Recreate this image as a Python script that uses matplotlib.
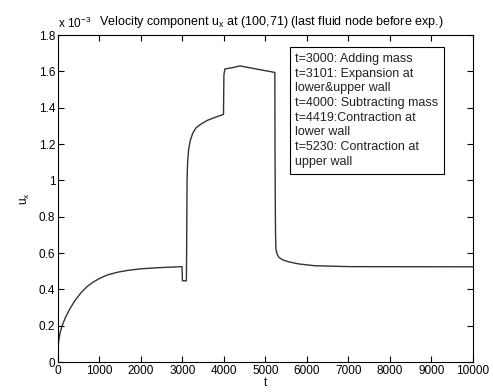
import matplotlib
matplotlib.use("Agg")
import matplotlib.pyplot as plt

plt.rcParams['font.family'] = ['Liberation Sans', 'DejaVu Sans']

# velocity u_x at node (100,71), values in units of 1e-3
t = [0, 20, 50, 100, 180, 280, 400, 550, 700, 850, 1000, 1200, 1450, 1700, 2000, 2400, 2700, 2990,
     3000, 3095, 3101, 3105, 3112, 3125, 3150, 3190, 3250, 3330, 3450, 3600, 3800, 3990,
     4000, 4024, 4200, 4386, 4800, 5228,
     5232, 5238, 5245, 5255, 5280, 5330, 5420, 5550, 5800, 6190, 7036, 10000]
ux = [0.084, 0.12, 0.16, 0.2, 0.245, 0.29, 0.335, 0.38, 0.415, 0.44, 0.46, 0.48, 0.495, 0.505, 0.513, 0.519, 0.522, 0.525,
      0.447, 0.447, 0.60, 0.75, 1.0, 1.1, 1.17, 1.22, 1.26, 1.29, 1.31, 1.33, 1.348, 1.363,
      1.58, 1.613, 1.62, 1.63, 1.612, 1.594,
      1.2, 0.9, 0.7, 0.62, 0.595, 0.575, 0.562, 0.552, 0.54, 0.53, 0.525, 0.524]

events = ["t=3000: Adding mass",
          "t=3101: Expansion at\nlower&upper wall",
          "t=4000: Subtracting mass",
          "t=4419:Contraction at\nlower wall",
          "t=5230: Contraction at\nupper wall"]

fig = plt.figure(figsize=(4.93, 3.92), dpi=100)
ax = fig.add_axes([0.1176, 0.0765, 0.8414, 0.8342])
ax.plot(t, ux, color='#333333', lw=1.0)

ax.set_xlim(0, 10000)
ax.set_ylim(0, 1.8)
ax.set_xticks(range(0, 10001, 1000))
ax.set_yticks([0, 0.2, 0.4, 0.6, 0.8, 1, 1.2, 1.4, 1.6, 1.8])
ax.set_yticklabels(['0', '0.2', '0.4', '0.6', '0.8', '1', '1.2', '1.4', '1.6', '1.8'])
ax.tick_params(direction='in', top=True, right=True, labelsize=8.5, length=4, width=0.8, pad=2)
for s in ax.spines.values():
    s.set_linewidth(0.8)

ax.set_xlabel('t', fontsize=8.5, labelpad=0)
ax.set_ylabel('u$_\\mathregular{x}$', fontsize=8.5, labelpad=5)
ax.set_title('Velocity component u$_\\mathregular{x}$ at (100,71) (last fluid node before exp.)',
             fontsize=9, pad=7, x=0.515)
ax.text(0.0, 1.012, 'x 10$^\\mathregular{-3}$', transform=ax.transAxes, fontsize=8.5,
        ha='left', va='bottom')

ax.text(0.572, 0.945, "\n".join(events), transform=ax.transAxes, fontsize=9,
        ha='left', va='top', linespacing=1.3, color='#222222',
        bbox=dict(boxstyle='square,pad=0.45', fc='white', ec='black', lw=0.8))

fig.savefig('out.png', dpi=100)
